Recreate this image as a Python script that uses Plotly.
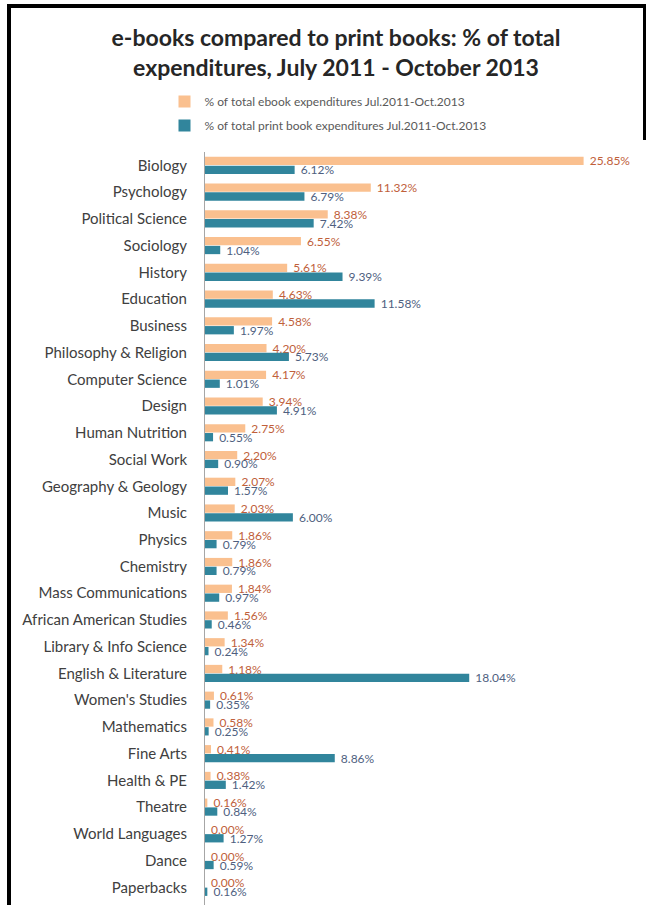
import plotly.graph_objects as go

categories = [
    "Biology", "Psychology", "Political Science", "Sociology", "History",
    "Education", "Business", "Philosophy & Religion", "Computer Science",
    "Design", "Human Nutrition", "Social Work", "Geography & Geology", "Music",
    "Physics", "Chemistry", "Mass Communications", "African American Studies",
    "Library & Info Science", "English & Literature", "Women's Studies",
    "Mathematics", "Fine Arts", "Health & PE", "Theatre", "World Languages",
    "Dance", "Paperbacks",
]
ebook_pct = [25.85, 11.32, 8.38, 6.55, 5.61, 4.63, 4.58, 4.20, 4.17, 3.94,
             2.75, 2.20, 2.07, 2.03, 1.86, 1.86, 1.84, 1.56, 1.34, 1.18,
             0.61, 0.58, 0.41, 0.38, 0.16, 0.00, 0.00, 0.00]
print_pct = [6.12, 6.79, 7.42, 1.04, 9.39, 11.58, 1.97, 5.73, 1.01, 4.91,
             0.55, 0.90, 1.57, 6.00, 0.79, 0.79, 0.97, 0.46, 0.24, 18.04,
             0.35, 0.25, 8.86, 1.42, 0.84, 1.27, 0.59, 0.16]

ebook_name = "% of total ebook expenditures Jul.2011-Oct.2013"
print_name = "% of total print book expenditures Jul.2011-Oct.2013"

W, H = 657, 905
ML, MR, MT, MB = 205, 17, 152, 0
PW, PH = W - ML - MR, H - MT - MB
N = len(categories)
SPACING = 26.74
EXTRA = PH / SPACING - N  # extra category units below last one

def px_x(p):
    return (p - ML) / PW

def px_y(q):
    return (H - MB - q) / PH

FONT = "Lato, 'Open Sans', sans-serif"

fig = go.Figure()
fig.add_trace(go.Bar(
    y=categories, x=ebook_pct, orientation="h", name=ebook_name,
    marker=dict(color="#FAC08F", line=dict(width=0)),
    texttemplate="\u00a0%{x:.2f}%", textposition="outside",
    textfont=dict(family=FONT, size=12, color="#C0603A"),
    constraintext="none", cliponaxis=False, legendgroup="a",
))
fig.add_trace(go.Bar(
    y=categories, x=print_pct, orientation="h", name=print_name,
    marker=dict(color="#31859C", line=dict(width=0)),
    texttemplate="\u00a0%{x:.2f}%", textposition="outside",
    textfont=dict(family=FONT, size=12, color="#4F5F7F"),
    constraintext="none", cliponaxis=False, legendgroup="b",
))

shapes = [
    dict(type="rect", xref="paper", yref="paper",
         x0=px_x(7), x1=px_x(11), y0=px_y(905), y1=px_y(4),
         fillcolor="black", line=dict(width=0), layer="above"),
    dict(type="rect", xref="paper", yref="paper",
         x0=px_x(7), x1=px_x(646), y0=px_y(8), y1=px_y(4),
         fillcolor="black", line=dict(width=0), layer="above"),
    dict(type="rect", xref="paper", yref="paper",
         x0=px_x(643), x1=px_x(646), y0=px_y(140), y1=px_y(4),
         fillcolor="black", line=dict(width=0), layer="above"),
]

fig.update_layout(
    width=W, height=H,
    margin=dict(l=ML, r=MR, t=MT, b=MB, pad=0, autoexpand=False),
    paper_bgcolor="white", plot_bgcolor="white",
    barmode="group", bargap=0.34, bargroupgap=0.06,
    font=dict(family=FONT, color="#404040"),
    title=dict(
        text="<b>e-books compared to print books: % of total<br>expenditures, July 2011 - October 2013</b>",
        x=336 / W, xanchor="center", xref="container",
        y=1 - 46 / H, yanchor="middle", yref="container",
        font=dict(family=FONT, size=23, color="#262626"),
    ),
    legend=dict(
        orientation="v", x=px_x(328), xanchor="center",
        y=px_y(87), yanchor="top",
        font=dict(family=FONT, size=12, color="#595959"),
        tracegroupgap=5, bgcolor="rgba(0,0,0,0)",
    ),
    xaxis=dict(range=[0, 29.7], showticklabels=False, showgrid=False,
               zeroline=False, showline=False, ticks="", fixedrange=True),
    yaxis=dict(
        range=[N - 0.5 + EXTRA, -0.5],
        showline=True, linecolor="#A6A6A6", linewidth=1,
        ticks="", showgrid=False, ticklabelstandoff=14, automargin=False,
        tickfont=dict(family=FONT, size=15, color="#404040"),
    ),
    shapes=shapes,
    showlegend=True,
)

fig.write_html("out.html", config={"displayModeBar": False},
               post_script="document.body.style.margin='0px';")
